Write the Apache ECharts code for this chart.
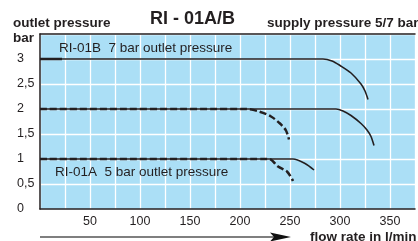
<!DOCTYPE html>
<html><head><meta charset="utf-8">
<script src="https://cdn.jsdelivr.net/npm/echarts@6/dist/echarts.min.js"></script>
<style>html,body{margin:0;padding:0;background:#fff}#c{width:418px;height:241px}</style>
</head><body><div id="c"></div>
<script>
// flow rate (l/min) , outlet pressure (bar)
const b7Solid   = [[0,3],[283,3],[292,2.96],[300,2.87],[311,2.72],[321,2.5],[325,2.36],[328,2.19]];
const b7Thick   = [[0,3],[22,3]];
const mid7Solid = [[0,2],[296,2],[303,1.96],[311,1.87],[321,1.71],[327,1.58],[331,1.45],[334,1.27]];
const mid5Dash  = [[0,2],[206,2],[219,1.95],[231,1.85],[240,1.71],[246,1.57],[249,1.39]];
const a7Solid   = [[0,1],[253,1],[265,0.91],[274,0.78]];
const a5Dash    = [[0,1],[229,1],[238,0.85],[247,0.75],[252,0.6],[253,0.56]];
const xTickLabels = [50,100,150,200,250,300,350];
const yTickLabels = ['0','0,5','1','1,5','2','2,5','3'];

const ink = '#231f20';
const F = 'Liberation Sans, Arial, Helvetica, sans-serif';
const chart = echarts.init(document.getElementById('c'));
function line(data, w, dash, smooth){
  return {type:'line', data, showSymbol:false, smooth: smooth,
    lineStyle:{color:ink, width:w, type: dash ? [7,3] : 'solid'}, silent:true, z:3};
}
chart.setOption({
  animation:false,
  grid:{left:40, top:34, right:1, bottom:32, show:true, backgroundColor:'#abdff6', borderWidth:0},
  xAxis:[{type:'value', min:0, max:375, interval:25,
    axisLine:{show:true, lineStyle:{color:ink, width:1.5}}, axisTick:{show:false},
    splitLine:{show:true, lineStyle:{color:'#ffffff', width:1.3}},
    axisLabel:{margin:6, fontSize:12.5, fontFamily:F, color:ink,
      formatter:v => xTickLabels.indexOf(v) >= 0 ? String(v) : ''}},
    {type:'value', position:'top', min:0, max:375, axisLine:{show:true, onZero:false, lineStyle:{color:ink, width:1.5}},
     axisTick:{show:false}, axisLabel:{show:false}, splitLine:{show:false}}],
  yAxis:{type:'value', min:0, max:3.5, interval:0.5,
    axisLine:{show:true, lineStyle:{color:ink, width:1.5}}, axisTick:{show:false},
    splitLine:{show:true, lineStyle:{color:'#ffffff', width:1.3}},
    axisLabel:{align:'left', margin:23, fontSize:12.5, fontFamily:F, color:ink,
      formatter:v => { const i = Math.round(v*2); return i < yTickLabels.length ? yTickLabels[i] : ''; }}},
  series:[
    line(b7Solid,1.6,false,0.3),
    line(b7Thick,2.6,false,false),
    line(mid7Solid,1.6,false,0.3),
    line(mid5Dash,2.5,true,0.3),
    line(a7Solid,1.6,false,0.3),
    line(a5Dash,2.5,true,0.3)
  ],
  graphic:[
    {type:'text', left:13, top:16, style:{text:'outlet pressure', font:'bold 13.5px '+F, fill:ink}},
    {type:'text', left:13, top:31, style:{text:'bar', font:'bold 13.5px '+F, fill:ink}},
    {type:'text', left:150, top:10, style:{text:'RI - 01A/B', font:'bold 18px '+F, fill:ink}},
    {type:'text', left:267, top:16, style:{text:'supply pressure 5/7 bar', font:'bold 13.5px '+F, fill:ink}},
    {type:'text', left:59, top:41, z:5, style:{text:'RI-01B  7 bar outlet pressure', font:'13.5px '+F, fill:ink}},
    {type:'text', left:55, top:165, z:5, style:{text:'RI-01A  5 bar outlet pressure', font:'13.5px '+F, fill:ink}},
    {type:'line', shape:{x1:40, y1:237, x2:276, y2:237}, style:{stroke:'#555', lineWidth:1.5}},
    {type:'polygon', shape:{points:[[270,232.5],[291,237],[270,241.5],[274,237]]}, style:{fill:'#111'}},
    {type:'text', left:310, top:230, style:{text:'flow rate in l/min', font:'bold 13.5px '+F, fill:ink}}
  ]
});
</script></body></html>
